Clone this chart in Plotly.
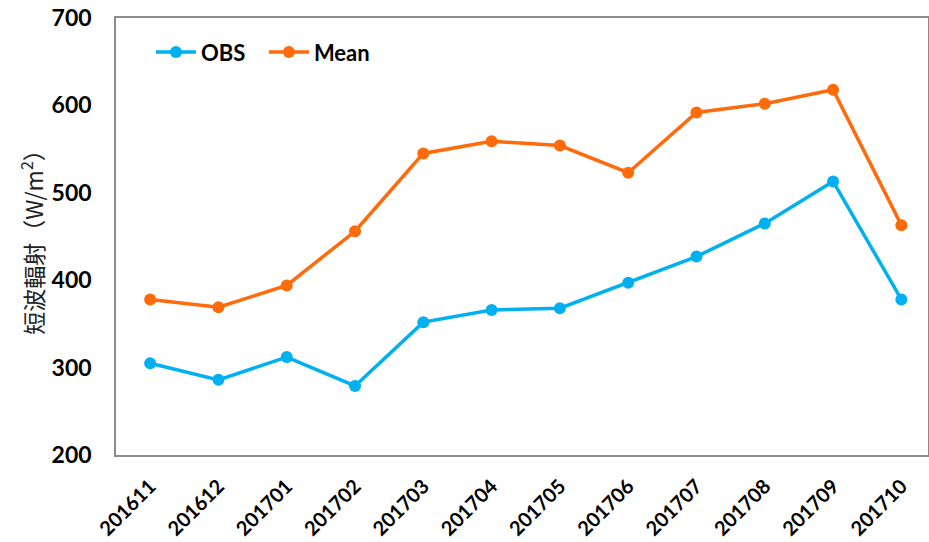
import plotly.graph_objects as go

months = ["201611", "201612", "201701", "201702", "201703", "201704",
          "201705", "201706", "201707", "201708", "201709", "201710"]
obs = [305, 286, 312, 279, 352, 366, 368, 397, 427, 465, 513, 378]
mean = [378, 369, 394, 456, 545, 559, 554, 523, 592, 602, 618, 463]

obs_color = "#00B0F0"
mean_color = "#FF6A0A"

fig = go.Figure()
fig.add_trace(go.Scatter(x=months, y=obs, name="OBS", mode="lines+markers",
                         line=dict(color=obs_color, width=3.5),
                         marker=dict(color=obs_color, size=12)))
fig.add_trace(go.Scatter(x=months, y=mean, name="Mean", mode="lines+markers",
                         line=dict(color=mean_color, width=3.5),
                         marker=dict(color=mean_color, size=12)))

fig.update_layout(
    width=929, height=542,
    margin=dict(l=116, r=1, t=18, b=87),
    plot_bgcolor="white", paper_bgcolor="white",
    font=dict(family="Lato", color="black"),
    legend=dict(x=0.043, y=0.97, xanchor="left", yanchor="top",
                orientation="h", bgcolor="rgba(0,0,0,0)",
                font=dict(family="Lato", size=22, weight="bold"),
                itemwidth=40, tracegroupgap=0, entrywidth=58),
    showlegend=True,
)
fig.update_xaxes(type="category", range=[-0.5, 11.39], showgrid=False,
                 showline=True, linecolor="#8c8c8c", linewidth=1.5, mirror=True,
                 ticks="", tickangle=-45, automargin=False, ticklabelstandoff=10,
                 tickfont=dict(family="Lato", size=20, weight="bold", color="black"))
fig.update_yaxes(range=[200, 700], dtick=100, showgrid=False,
                 showline=True, linecolor="#8c8c8c", linewidth=1.5, mirror=True,
                 ticks="", ticklen=0, zeroline=False, automargin=False,
                 ticklabelstandoff=18,
                 tickfont=dict(family="Lato", size=23, weight="bold", color="black"),
                 title=dict(text="短波輻射（W/m<sup>2</sup>）",
                            font=dict(family="Noto Sans CJK TC", size=23, color="#222"),
                            standoff=2))

fig.write_html("out.html", config={"displayModeBar": False},
               post_script="document.body.style.margin='0';")
